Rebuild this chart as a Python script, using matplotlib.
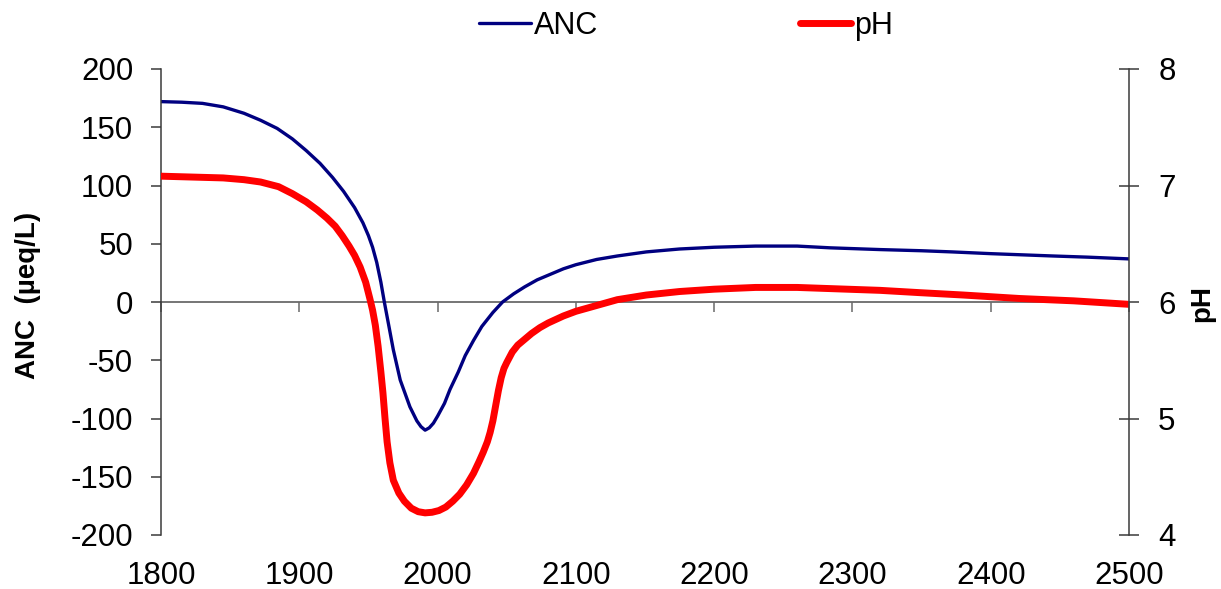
import matplotlib
matplotlib.use("Agg")
import matplotlib.pyplot as plt

plt.rcParams['font.family'] = ['Liberation Sans', 'DejaVu Sans']
plt.rcParams['axes.unicode_minus'] = False

# ---- data ----
anc_years = [1800, 1815, 1830, 1845, 1860, 1872, 1884, 1895, 1905, 1915, 1924, 1932,
             1940, 1946, 1950, 1953, 1956, 1959, 1961.5, 1965, 1968, 1973, 1980, 1985,
             1988, 1991, 1994, 1997, 2000, 2005, 2009, 2015, 2020, 2026, 2032, 2040,
             2047, 2055, 2063, 2072, 2082, 2091, 2100, 2115, 2130, 2151, 2175, 2200,
             2230, 2260, 2284, 2320, 2350, 2372, 2400, 2445, 2470, 2500]
anc_values = [172, 171.5, 170.5, 167.5, 162, 156, 149, 140, 130, 119, 107, 95,
              81, 68, 57, 47, 34, 17, 0, -22, -41, -67, -90, -102,
              -107, -110, -108, -104, -98, -87, -75, -60, -46, -33, -21, -9,
              0, 7, 13, 19, 24, 28.5, 32, 36.5, 39.5, 43, 45.5, 47,
              48, 48, 46.5, 45, 44, 43, 41.5, 39.5, 38.5, 37]

ph_years = [1800, 1815, 1830, 1845, 1860, 1872, 1885, 1895, 1905, 1913, 1920, 1926,
            1931, 1936, 1940, 1944, 1948, 1951, 1953, 1955, 1957, 1959, 1960.5, 1962,
            1963.5, 1965.5, 1968, 1972, 1976, 1981, 1986, 1991, 1996, 2001, 2006, 2011,
            2016, 2021, 2026, 2030, 2033, 2036, 2038, 2040, 2042, 2044, 2046, 2048,
            2050, 2054, 2058, 2063, 2068, 2074, 2080, 2091, 2100, 2115, 2130, 2151,
            2175, 2200, 2230, 2260, 2284, 2320, 2349, 2380, 2421, 2460, 2500]
ph_values = [7.08, 7.075, 7.07, 7.065, 7.05, 7.03, 6.99, 6.93, 6.86, 6.79, 6.72, 6.65,
             6.57, 6.48, 6.40, 6.30, 6.17, 6.03, 5.93, 5.80, 5.62, 5.40, 5.22, 5.00,
             4.80, 4.62, 4.47, 4.36, 4.29, 4.23, 4.20, 4.19, 4.195, 4.21, 4.24, 4.29,
             4.35, 4.43, 4.53, 4.63, 4.71, 4.80, 4.88, 4.98, 5.11, 5.24, 5.35, 5.43,
             5.48, 5.57, 5.63, 5.68, 5.73, 5.78, 5.82, 5.88, 5.92, 5.97, 6.02, 6.06,
             6.09, 6.11, 6.125, 6.125, 6.115, 6.10, 6.08, 6.06, 6.03, 6.01, 5.98]

x_ticks = [1800, 1900, 2000, 2100, 2200, 2300, 2400, 2500]
anc_ticks = [-200, -150, -100, -50, 0, 50, 100, 150, 200]
ph_ticks = [4, 5, 6, 7, 8]

# ---- styling ----
spine_col = '#3a3a3a'
zero_col = '#6a6a6a'
tick_fs = 22.5
lab_fs = 20

fig = plt.figure(figsize=(12.21, 5.89), dpi=100)
ax = fig.add_axes([161/1221, 1 - 535/589, (1129 - 161)/1221, (535 - 69)/589])

l1, = ax.plot(anc_years, anc_values, color='#000080', lw=2.4, label='ANC',
              solid_capstyle='round', solid_joinstyle='round')
ax.set_xlim(1800, 2500)
ax.set_ylim(-200, 200)
ax.set_yticks(anc_ticks)
ax.set_xticks(x_ticks)
for s in ['top', 'right', 'bottom']:
    ax.spines[s].set_visible(False)
ax.spines['left'].set_color(spine_col)
ax.spines['left'].set_linewidth(1.1)
ax.tick_params(axis='y', direction='out', length=7, width=1.1, color=spine_col,
               labelsize=tick_fs, pad=13)
ax.tick_params(axis='x', length=0, labelsize=tick_fs, pad=18.5)

# zero line with tick marks
sec = ax.secondary_xaxis(0, transform=ax.transData)
sec.set_xticks(x_ticks)
sec.tick_params(axis='x', direction='out', length=7, width=1.1, color=zero_col,
                labelbottom=False, labeltop=False)
sec.spines['top'].set_visible(False)
sec.spines['bottom'].set_color(zero_col)
sec.spines['bottom'].set_linewidth(1.3)

ax2 = ax.twinx()
l2, = ax2.plot(ph_years, ph_values, color='#ff0000', lw=5, label='pH',
               solid_capstyle='round', solid_joinstyle='round')
ax2.set_ylim(4, 8)
ax2.set_yticks(ph_ticks)
for s in ['top', 'left', 'bottom']:
    ax2.spines[s].set_visible(False)
ax2.spines['right'].set_color(spine_col)
ax2.spines['right'].set_linewidth(1.1)
ax2.tick_params(axis='y', direction='inout', length=14, width=1.1, color=spine_col,
                labelsize=tick_fs, pad=14)

fig.text(28/1221, 1 - 295/589, 'ANC  (µeq/L)', rotation=90, ha='center', va='center',
         fontsize=lab_fs, fontweight='bold')
fig.text(1202/1221, 1 - 304/589, 'pH', rotation=90, ha='center', va='center',
         fontsize=lab_fs, fontweight='bold')

fig.legend(handles=[l1, l2], loc='center', bbox_to_anchor=(686/1221, 1 - 26/589),
           ncol=2, frameon=False, fontsize=22, handlelength=1.7, handletextpad=0.08,
           columnspacing=6.6, borderpad=0, borderaxespad=0)

fig.savefig('out.png', dpi=100)
